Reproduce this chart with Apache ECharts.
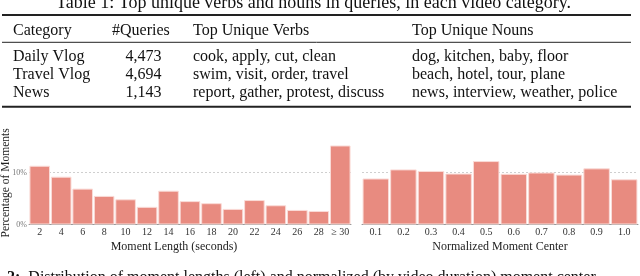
<!DOCTYPE html>
<html>
<head>
<meta charset="utf-8">
<script src="https://cdn.jsdelivr.net/npm/echarts@6/dist/echarts.min.js"></script>
<style>
html,body{margin:0;padding:0;background:#fff;}
#c{width:640px;height:276px;}
</style>
</head>
<body>
<div id="c"></div>
<script>
// ---- data ----
const tableTitle = 'Table 1: Top unique verbs and nouns in queries, in each video category.';
const tableHeaders = ['Category', '#Queries', 'Top Unique Verbs', 'Top Unique Nouns'];
const tableCategories = ['Daily Vlog', 'Travel Vlog', 'News'];
const tableQueries = ['4,473', '4,694', '1,143'];
const tableVerbs = ['cook, apply, cut, clean', 'swim, visit, order, travel', 'report, gather, protest, discuss'];
const tableNouns = ['dog, kitchen, baby, floor', 'beach, hotel, tour, plane', 'news, interview, weather, police'];

const lengthLabels = ['2', '4', '6', '8', '10', '12', '14', '16', '18', '20', '22', '24', '26', '28', '\u2265 30'];
const lengthValues = [11.3, 9.2, 6.9, 5.5, 4.85, 3.4, 6.5, 4.5, 4.1, 3.0, 4.7, 3.7, 2.8, 2.6, 15.2];
const centerLabels = ['0.1', '0.2', '0.3', '0.4', '0.5', '0.6', '0.7', '0.8', '0.9', '1.0'];
const centerValues = [8.85, 10.6, 10.3, 9.8, 12.2, 9.75, 10.0, 9.6, 10.8, 8.7];

const yAxisTitle = 'Percentage of Moments';
const leftXTitle = 'Moment Length (seconds)';
const rightXTitle = 'Normalized Moment Center';
const captionText = 'Distribution of moment lengths (left) and normalized (by video duration) moment center';

// ---- style ----
const SERIF = '"Liberation Serif", "DejaVu Serif", serif';
const BAR = '#e88b80';
const colX = [13, 112, 193, 412];
const rowY = [30.5, 56.5, 74.5, 92.5];

const chart = echarts.init(document.getElementById('c'), null, {renderer: 'canvas'});

const graphics = [];
graphics.push({type: 'text', style: {text: tableTitle, x: 313.5, y: 3.5, font: '18px ' + SERIF,
  fill: '#111', align: 'center', textAlign: 'center', verticalAlign: 'middle', textVerticalAlign: 'middle'}});
[[15, 2], [42.3, 1], [106.7, 2]].forEach(function (r) {
  graphics.push({type: 'line', shape: {x1: 2, y1: r[0], x2: 631, y2: r[0]}, style: {stroke: '#222', lineWidth: r[1]}});
});
function cell(t, x, y, align) {
  graphics.push({type: 'text', style: {text: t, x: x, y: y, font: '16px ' + SERIF, fill: '#111',
    align: align, textAlign: align, verticalAlign: 'middle', textVerticalAlign: 'middle'}});
}
tableHeaders.forEach(function (h, i) { cell(h, colX[i], rowY[0], 'left'); });
for (let r = 0; r < tableCategories.length; r++) {
  cell(tableCategories[r], colX[0], rowY[r + 1], 'left');
  cell(tableQueries[r], 143.5, rowY[r + 1], 'center');
  cell(tableVerbs[r], colX[2], rowY[r + 1], 'left');
  cell(tableNouns[r], colX[3], rowY[r + 1], 'left');
}
graphics.push({type: 'text', style: {text: '{b|2:}  ' + captionText, x: 7, y: 278,
  font: '16px ' + SERIF, fill: '#111', align: 'left', textAlign: 'left', verticalAlign: 'middle', textVerticalAlign: 'middle',
  rich: {b: {fontWeight: 'bold', fontSize: 16, fontFamily: SERIF}}}});

function xAxis(idx, labels, name, padding) {
  return {
    type: 'category', gridIndex: idx, data: labels,
    axisLine: {lineStyle: {color: '#999', width: 1}},
    axisTick: {show: false},
    axisLabel: {interval: 0, fontSize: 10, color: '#333', fontFamily: SERIF, margin: 3},
    name: name, nameLocation: 'middle', nameGap: 16.5, nameMoveOverlap: false,
    nameTextStyle: {fontSize: 12, color: '#222', fontFamily: SERIF, padding: padding}
  };
}
function yAxis(idx, showLabel) {
  return {
    type: 'value', gridIndex: idx, min: 0, max: 16, interval: 10,
    axisLine: {show: false}, axisTick: {show: false},
    axisLabel: {show: showLabel, formatter: '{value}%', showMaxLabel: false, fontSize: 8, color: '#777', fontFamily: SERIF, margin: 2},
    splitLine: {show: true, showMinLine: false, showMaxLine: false, lineStyle: {color: '#cfcfcf', type: [2, 2], width: 1}},
    name: showLabel ? yAxisTitle : '', nameLocation: 'middle', nameGap: 17, nameMoveOverlap: false,
    nameTextStyle: {fontSize: 11.5, color: '#222', fontFamily: SERIF}
  };
}
function bars(idx, values) {
  return {
    type: 'bar', xAxisIndex: idx, yAxisIndex: idx, data: values, barCategoryGap: '4%',
    itemStyle: {color: BAR, borderColor: '#fadcd8', borderWidth: 1}, silent: true
  };
}

chart.setOption({
  animation: false,
  grid: [
    {left: 29, top: 141.3, width: 322, height: 83.2, containLabel: false, outerBoundsMode: 'none'},
    {left: 362, top: 141.3, width: 276, height: 83.2, containLabel: false, outerBoundsMode: 'none'}
  ],
  xAxis: [xAxis(0, lengthLabels, leftXTitle, [0, 32, 0, 0]), xAxis(1, centerLabels, rightXTitle, 0)],
  yAxis: [yAxis(0, true), yAxis(1, false)],
  series: [bars(0, lengthValues), bars(1, centerValues)],
  graphic: {elements: graphics}
});
</script>
</body>
</html>
